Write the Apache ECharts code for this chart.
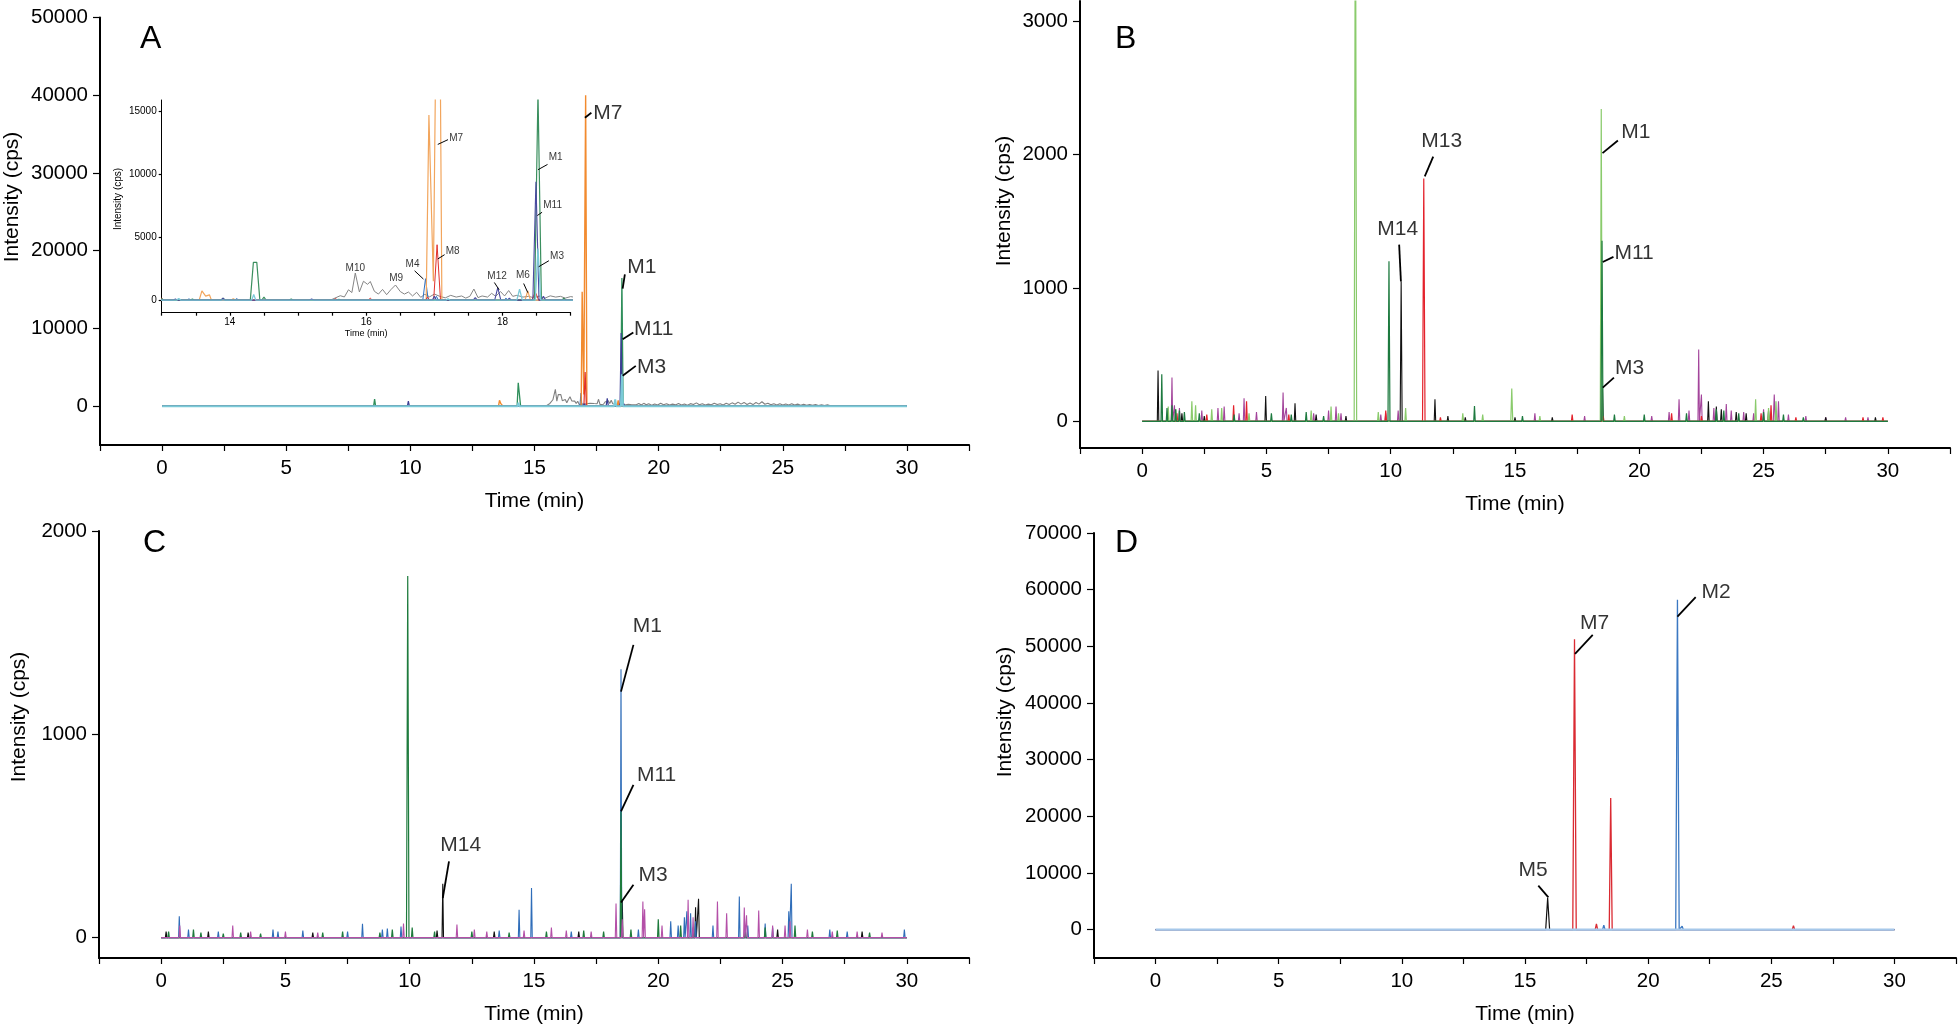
<!DOCTYPE html>
<html><head><meta charset="utf-8">
<script src="https://cdn.jsdelivr.net/npm/echarts@6/dist/echarts.min.js"></script>
<style>html,body{margin:0;padding:0;background:#fff}#c{width:1959px;height:1026px}</style>
</head><body><div id="c"></div><script>
// ---------- tick values ----------
const timeLabels = [0, 5, 10, 15, 20, 25, 30];
const insetTimeLabels = [14, 16, 18];
const yTicksA = [0, 10000, 20000, 30000, 40000, 50000];
const yTicksInset = [0, 5000, 10000, 15000];
const yTicksB = [0, 1000, 2000, 3000];
const yTicksC = [0, 1000, 2000];
const yTicksD = [0, 10000, 20000, 30000, 40000, 50000, 60000, 70000];

// ---------- Panel A (main + inset share the traces): peaks [time, intensity, halfWidth?] ----------
const A_gray = [[15.50,60,0.05],[15.62,350],[15.68,250],[15.74,820],[15.79,600],[15.84,2150],[15.90,650],[15.96,1500],[16.02,1250],[16.06,1480],[16.12,700],[16.18,480],[16.24,850],[16.30,430],[16.36,820],[16.43,1200],[16.50,680],[16.56,480],[16.62,640],[16.68,330],[16.74,620],[16.80,220],[16.86,460],[16.93,260],[17.00,480],[17.08,300],[17.16,180],[17.24,380],[17.32,240],[17.40,330],[17.46,160],[17.52,300],[17.58,880],[17.64,200],[17.70,330],[17.78,240],[17.84,540],[17.90,300],[17.97,680],[18.03,330],[18.09,760],[18.15,300],[18.21,380],[18.30,240],[18.38,300],[18.46,190],[18.54,320],[18.62,150],[18.70,340],[18.78,240],[18.85,300],[18.92,160],[19.00,280],[19.10,180],[19.20,330],[19.30,140],[19.40,360],[19.50,170],[19.60,300],[19.72,120],[19.84,280],[19.96,150],[20.08,380],[20.20,180],[20.32,300],[20.44,130],[20.56,260],[20.68,160],[20.80,340],[20.92,150],[21.04,280],[21.16,120],[21.28,320],[21.40,200],[21.52,420],[21.64,180],[21.76,300],[21.88,140],[22.00,260],[22.12,170],[22.24,380],[22.36,200],[22.48,300],[22.60,160],[22.72,360],[22.84,220],[22.96,420],[23.08,250],[23.20,520],[23.32,260],[23.44,480],[23.56,220],[23.68,400],[23.80,200],[23.92,460],[24.04,260],[24.16,560],[24.28,240],[24.40,380],[24.52,180],[24.64,320],[24.76,160],[24.88,300],[25.00,140],[25.12,280],[25.24,150],[25.36,300],[25.48,130],[25.60,260],[25.72,120],[25.84,240],[25.96,110],[26.08,220],[26.20,100],[26.32,200],[26.44,90],[26.56,180],[26.68,80],[26.80,160],[26.92,60]];
const A_blue = [[0.68,150],[8.0,50],[13.4,100],[14.1,120],[16.87,1700,0.04],[17.03,300],[18.05,150]];
const A_orange = [[1.4,60],[5.3,70],[12.9,90],[13.59,740,0.04],[13.645,320,0.025],[13.70,420,0.03],[14.05,110],[16.92,14700,0.04],[16.985,1500,0.03],[17.06,40000,0.05],[18.37,740,0.04],[18.9,80]];
const A_red = [[1.07,90],[7.9,60],[12.5,150],[13.0,150],[15.55,120],[16.06,150],[16.9,250],[17.04,4400,0.05],[18.48,650,0.05],[18.9,120]];
const A_green = [[1.0,60],[4.4,50],[8.56,900,0.04],[13.0,100],[13.45,80],[13.9,150],[14.345,3000,0.045],[14.395,3000,0.045],[14.50,250],[14.9,80],[15.6,60],[18.52,16500,0.05],[18.9,150],[19.3,100],[20.5,60]];
const A_navy = [[3.3,50],[9.92,650,0.04],[13.2,100],[13.9,150],[15.2,80],[17.0,300],[17.6,200],[17.93,1000,0.045],[18.1,150],[18.49,9400,0.045],[18.6,300]];
const A_cyan = [[13.25,120],[14.35,450],[17.2,100],[18.25,880,0.04],[18.52,4100,0.04]];

// ---------- Panel B ----------
const B_magenta = [[1.2,328],[1.3,120],[1.5,100],[2.4,80],[3.05,100],[3.3,110],[3.9,60],[4.1,172],[4.6,70],[5.67,215],[5.8,100],[6.9,60],[7.5,80],[7.8,110],[8.0,60],[9.6,50],[9.8,60],[10.3,80],[15.8,60],[17.8,40],[20.5,40],[21.2,70],[21.6,165],[22.0,80],[22.39,538],[22.5,200],[23.0,100],[23.5,130],[23.7,80],[24.2,70],[24.6,60],[25.0,90],[25.43,200,0.04],[25.6,150],[26.0,50],[26.7,40],[27.5,30],[28.3,30],[29.2,30]];
const B_black = [[0.64,380],[1.6,60],[2.5,40],[4.97,190],[6.15,135],[7.0,50],[8.2,40],[10.42,1050,0.04],[11.78,165],[12.3,40],[13.0,30],[15.0,30],[16.5,30],[18.52,250],[22.78,150],[23.1,110],[23.3,90],[23.9,70],[24.3,60],[25.2,80],[27.5,30],[29.5,30]];
const B_red = [[1.4,60],[2.6,50],[3.68,120],[4.2,150],[5.9,50],[9.8,80],[11.33,1820,0.05],[12.0,30],[17.3,50],[18.55,40],[21.3,60],[22.5,40],[24.9,60],[25.3,120],[26.3,30],[29.0,30],[29.8,30]];
const B_lightGreen = [[1.05,110],[1.35,90],[2.0,150],[2.15,120],[2.8,90],[3.2,100],[4.3,60],[6.8,80],[7.6,110],[7.9,60],[8.58,4500,0.05],[9.5,70],[10.6,100],[12.9,60],[13.7,50],[14.87,246,0.04],[16.0,40],[18.47,2340,0.04],[19.4,40],[24.68,165],[25.2,100],[25.5,150]];
const B_darkGreen = [[0.79,352],[1.0,100],[1.2,120],[1.35,90],[1.5,80],[1.7,70],[2.3,60],[3.7,50],[5.2,60],[6.0,50],[6.6,70],[7.3,40],[9.93,1200,0.04],[13.37,114],[15.3,40],[18.5,1354,0.04],[19.0,50],[20.2,50],[21.9,60],[23.1,90],[23.4,80],[24.0,60],[25.0,70],[25.8,50],[26.6,30]];

// ---------- Panel C ----------
const C_black = [[0.2,30],[1.9,30],[3.5,25],[6.1,25],[11.1,35],[11.33,265],[13.4,30],[16.8,30],[18.55,190],[21.5,150],[21.62,191],[24.8,40],[28.2,30]];
const C_blue = [[0.73,105],[1.1,40],[2.3,30],[4.5,40],[4.7,30],[5.7,35],[7.5,30],[8.1,68],[8.9,40],[9.1,45],[9.65,55],[13.6,35],[14.4,137],[14.9,244],[16.5,30],[18.5,1320],[19.2,40],[20.5,80],[20.8,60],[21.05,100],[21.15,130],[21.3,120],[21.5,80],[22.2,60],[23.26,203],[23.6,60],[24.3,70],[24.6,50],[25.25,130],[25.35,265],[26.9,40],[27.6,30],[29.9,40]];
const C_green = [[0.3,30],[1.3,40],[1.6,25],[2.5,20],[3.2,25],[4.0,20],[6.5,25],[7.3,30],[8.8,25],[9.3,40],[9.92,1779,0.05],[10.1,50],[11.0,30],[12.5,30],[14.0,25],[15.5,30],[17.0,35],[17.8,30],[18.5,620],[18.9,40],[20.0,90],[20.9,60],[21.4,50],[23.5,40],[24.3,50],[25.5,60],[26.2,30],[27.2,35],[28.5,25]];
const C_magenta = [[0.75,60],[2.88,60],[3.6,30],[5.0,30],[6.3,25],[9.75,70],[11.9,65],[12.6,40],[13.1,30],[14.6,35],[15.7,50],[16.3,35],[17.3,30],[18.3,168],[18.55,90],[19.38,178],[19.45,140],[20.15,60],[21.2,186],[21.4,100],[22.38,178],[22.75,120],[23.46,148],[23.55,110],[24.04,133],[24.6,60],[25.1,60],[25.3,80],[26.0,40],[27.0,30],[28.0,30],[29.0,25]];

// ---------- Panel D ----------
const D_black = [[15.92,5590,0.08]];
const D_red = [[17.01,51270,0.07],[17.5,200],[17.9,1000,0.05],[18.48,23230,0.06],[19.0,200],[19.6,200],[21.3,150],[22.4,150],[23.1,200],[25.9,700,0.05]];
const D_blue = [[0.7,200],[7.0,150],[10.9,150],[13.3,150],[13.8,150],[14.7,150],[15.0,150],[18.2,800,0.05],[21.19,58200,0.07],[21.38,600,0.05],[21.7,200],[22.6,200],[23.0,150],[23.7,200],[24.1,150],[25.5,150]];
const D_lightBlue = [[13.6,100],[19.5,150]];

// ---------- annotations: [name, peakT, peakI, endT, endI, labelT, labelI, anchor] ----------
const annA = [['M7',17.03,37100,17.29,37740,17.35,37700,'left'],['M1',18.55,15110,18.64,16950,18.72,17840,'left'],['M11',18.55,8600,18.98,9460,18.99,9880,'left'],['M3',18.55,3900,19.08,5180,19.11,5070,'left']];
const annInset = [['M7',17.05,12370,17.20,12750,17.21,12890,'left'],['M1',18.52,10360,18.66,10780,18.67,11340,'left'],['M11',18.51,6720,18.58,6980,18.59,7510,'left'],['M3',18.53,2650,18.68,3130,18.69,3470,'left'],['M8',17.05,3270,17.15,3610,17.16,3860,'left'],['M4',16.84,1670,16.71,2330,16.68,2810,'center'],['M10',null,null,null,null,15.84,2530,'center'],['M9',null,null,null,null,16.44,1740,'center'],['M12',17.95,820,17.88,1400,17.92,1900,'center'],['M6',18.37,600,18.31,1320,18.30,1940,'center']];
const annB = [['M13',11.37,1835,11.71,1984,12.05,2103,'center'],['M14',10.41,1049,10.34,1324,10.28,1443,'center'],['M1',18.52,2010,19.14,2104,19.25,2165,'left'],['M11',18.53,1194,18.96,1232,18.98,1262,'left'],['M3',18.53,252,18.98,327,19.0,396,'left']];
const annC = [['M1',18.5,1210,19.0,1440,19.56,1534,'center'],['M11',18.5,621,19.0,752,19.12,801,'left'],['M3',18.5,173,19.0,260,19.18,306,'left'],['M14',11.33,195,11.58,375,12.05,453,'center']];
const annD = [['M7',17.03,48680,17.75,52030,17.83,54000,'center'],['M2',21.19,55260,21.93,58680,22.15,59470,'left'],['M5',15.95,5700,15.54,7760,15.33,10440,'center']];

// ---------- build ----------
const FONT = 'Liberation Sans, Arial, Helvetica, sans-serif';
function trace(peaks, hw) {
  const s = peaks.slice().sort((a, b) => a[0] - b[0]);
  const pts = [[0, 0]];
  let prevEnd = null;
  for (const p of s) {
    const w = p[2] || hw;
    const start = p[0] - w;
    if (prevEnd === null || start > prevEnd + 1e-6) {
      if (prevEnd !== null) pts.push([prevEnd, 0]);
      pts.push([start, 0]);
    }
    pts.push([p[0], p[1]]);
    prevEnd = p[0] + w;
  }
  if (prevEnd !== null) pts.push([prevEnd, 0]);
  pts.push([30, 0]);
  return pts;
}
function line(g, peaks, hw, color, width, z) {
  return {type: 'line', xAxisIndex: g, yAxisIndex: g, data: trace(peaks, hw), symbol: 'none', showSymbol: false,
    lineStyle: {color, width}, itemStyle: {color}, animation: false, silent: true, z, clip: true, emphasis: {disabled: true}};
}
function leaders(g, ann, width) {
  return {type: 'lines', coordinateSystem: 'cartesian2d', xAxisIndex: g, yAxisIndex: g, z: 20, silent: true, animation: false,
    data: ann.filter(a => a[1] != null).map(a => ({coords: [[a[1], a[2]], [a[3], a[4]]]})),
    lineStyle: {color: '#000', width, opacity: 1, curveness: 0}};
}
function labels(g, ann, size) {
  return {type: 'scatter', xAxisIndex: g, yAxisIndex: g, symbolSize: 1, itemStyle: {color: 'rgba(0,0,0,0)'}, silent: true, animation: false, z: 21, clip: false,
    data: ann.map(a => ({value: [a[5], a[6]], name: a[0], label: {position: a[7] === 'left' ? 'right' : 'inside'}})),
    label: {show: true, formatter: p => p.name, distance: 0, color: '#000', fontSize: size, fontFamily: FONT}};
}
function xAx(g, min, max, step, lbls, size, nameSize, gap, lw, tick, margin) {
  return {gridIndex: g, type: 'value', min, max, interval: step, name: 'Time (min)', nameLocation: 'middle', nameGap: gap,
    nameTextStyle: {fontSize: nameSize, fontFamily: FONT, color: '#000'},
    axisLine: {show: true, onZero: false, lineStyle: {color: '#000', width: lw}},
    axisTick: {show: true, inside: false, length: tick, lineStyle: {color: '#000', width: 1.2}},
    axisLabel: {show: true, margin, fontSize: size, fontFamily: FONT, color: '#000', showMinLabel: true, showMaxLabel: true,
      formatter: v => lbls.some(l => Math.abs(l - v) < 1e-6) ? String(Math.round(v)) : ''},
    splitLine: {show: false}};
}
function yAx(g, min, max, ticks, size, lw, tick, margin) {
  return {gridIndex: g, type: 'value', min, max,
    axisLine: {show: true, onZero: false, lineStyle: {color: '#000', width: lw}},
    axisTick: {show: true, inside: false, length: tick, customValues: ticks, lineStyle: {color: '#000', width: 1.2}},
    axisLabel: {show: true, margin, fontSize: size, fontFamily: FONT, color: '#000', customValues: ticks, formatter: v => String(v)},
    splitLine: {show: false}};
}

const series = [
  // A main
  line(0, A_gray, 0.07, '#808080', 1.1, 2), line(0, A_blue, 0.03, '#2F72C4', 1.1, 3), line(0, A_orange, 0.03, '#F28A2E', 1.4, 4),
  line(0, A_red, 0.03, '#E0312B', 1.2, 5), line(0, A_green, 0.03, '#2F8F5B', 1.3, 6), line(0, A_navy, 0.03, '#3B3D94', 1.2, 7),
  line(0, A_cyan, 0.03, '#7BCAD8', 2, 8),
  leaders(0, annA, 1.8), labels(0, annA, 21),
  // inset
  line(1, A_gray, 0.07, '#858585', 1, 2), line(1, A_blue, 0.03, '#2F72C4', 1, 3), line(1, A_orange, 0.03, '#F2A55C', 1.2, 4),
  line(1, A_red, 0.03, '#E0312B', 1, 5), line(1, A_green, 0.03, '#3A8F5E', 1.2, 6), line(1, A_navy, 0.03, '#4A4AA0', 1.1, 7),
  line(1, A_cyan, 0.03, '#7BCAD8', 1.3, 8),
  leaders(1, annInset, 1), labels(1, annInset, 10),
  // B
  line(2, B_magenta, 0.03, '#A3449B', 1.1, 2), line(2, B_black, 0.03, '#111111', 1.1, 3), line(2, B_red, 0.03, '#E4222C', 1.2, 4),
  line(2, B_lightGreen, 0.03, '#8ACB6C', 1.2, 5), line(2, B_darkGreen, 0.03, '#1D7A3F', 1.2, 6),
  leaders(2, annB, 1.8), labels(2, annB, 21),
  // C
  line(3, C_black, 0.03, '#111111', 1.1, 2), line(3, C_blue, 0.03, '#2F6DB9', 1.1, 3), line(3, C_green, 0.03, '#1E7B3D', 1.2, 4),
  line(3, C_magenta, 0.03, '#B450A8', 1.1, 5),
  leaders(3, annC, 1.8), labels(3, annC, 21),
  // D
  line(4, D_black, 0.05, '#111111', 1.2, 2), line(4, D_red, 0.05, '#DA2A32', 1.3, 3),
  line(4, D_blue, 0.05, '#3B78C2', 1.3, 4), line(4, D_lightBlue, 0.05, '#A6C8EA', 2.2, 5),
  leaders(4, annD, 1.8), labels(4, annD, 21)
];

const option = {
  backgroundColor: '#ffffff',
  animation: false,
  grid: [
    {left: 100, top: 17.5, width: 869, height: 427.5},
    {left: 161.7, top: 100, width: 409, height: 212.7},
    {left: 1080, top: 1, width: 870, height: 447},
    {left: 99, top: 531, width: 870, height: 427},
    {left: 1094, top: 533, width: 865, height: 425}
  ],
  xAxis: [
    xAx(0, -2.5, 32.5, 2.5, timeLabels, 20.5, 21, 46, 2.2, 6, 13),
    xAx(1, 13, 19, 0.5, insetTimeLabels, 10, 9, 14, 1, 3, 5),
    xAx(2, -2.5, 32.5, 2.5, timeLabels, 20.5, 21, 46, 2.2, 6, 13),
    xAx(3, -2.5, 32.5, 2.5, timeLabels, 20.5, 21, 46, 2.2, 6, 13),
    xAx(4, -2.5, 32.5, 2.5, timeLabels, 20.5, 21, 46, 2.2, 6, 13)
  ],
  yAxis: [
    yAx(0, -5000, 50000, yTicksA, 20.5, 2, 7, 12),
    yAx(1, -1000, 15900, yTicksInset, 10, 1, 3, 5),
    yAx(2, -200, 3150, yTicksB, 20.5, 2, 7, 12),
    yAx(3, -100, 2000, yTicksC, 20.5, 2, 7, 12),
    yAx(4, -5000, 70000, yTicksD, 20.5, 2, 7, 12)
  ],
  graphic: [
    {type: 'text', x: 140, y: 23, style: {text: 'A', fontSize: 32, fontFamily: FONT, fill: '#000'}},
    {type: 'text', x: 1115, y: 23, style: {text: 'B', fontSize: 32, fontFamily: FONT, fill: '#000'}},
    {type: 'text', x: 143, y: 527, style: {text: 'C', fontSize: 32, fontFamily: FONT, fill: '#000'}},
    {type: 'text', x: 1115, y: 527, style: {text: 'D', fontSize: 32, fontFamily: FONT, fill: '#000'}},
    {type: 'text', x: 12, y: 197, rotation: Math.PI / 2, style: {text: 'Intensity (cps)', fontSize: 21, fontFamily: FONT, fill: '#000', align: 'center', verticalAlign: 'middle'}},
    {type: 'text', x: 1004, y: 201, rotation: Math.PI / 2, style: {text: 'Intensity (cps)', fontSize: 21, fontFamily: FONT, fill: '#000', align: 'center', verticalAlign: 'middle'}},
    {type: 'text', x: 19, y: 717, rotation: Math.PI / 2, style: {text: 'Intensity (cps)', fontSize: 21, fontFamily: FONT, fill: '#000', align: 'center', verticalAlign: 'middle'}},
    {type: 'text', x: 1005, y: 712, rotation: Math.PI / 2, style: {text: 'Intensity (cps)', fontSize: 21, fontFamily: FONT, fill: '#000', align: 'center', verticalAlign: 'middle'}},
    {type: 'text', x: 118, y: 199, rotation: Math.PI / 2, style: {text: 'Intensity (cps)', fontSize: 10, fontFamily: FONT, fill: '#000', align: 'center', verticalAlign: 'middle'}}
  ],
  series
};
const chart = echarts.init(document.getElementById('c'), null, {renderer: 'canvas'});
chart.setOption(option);
</script></body></html>
